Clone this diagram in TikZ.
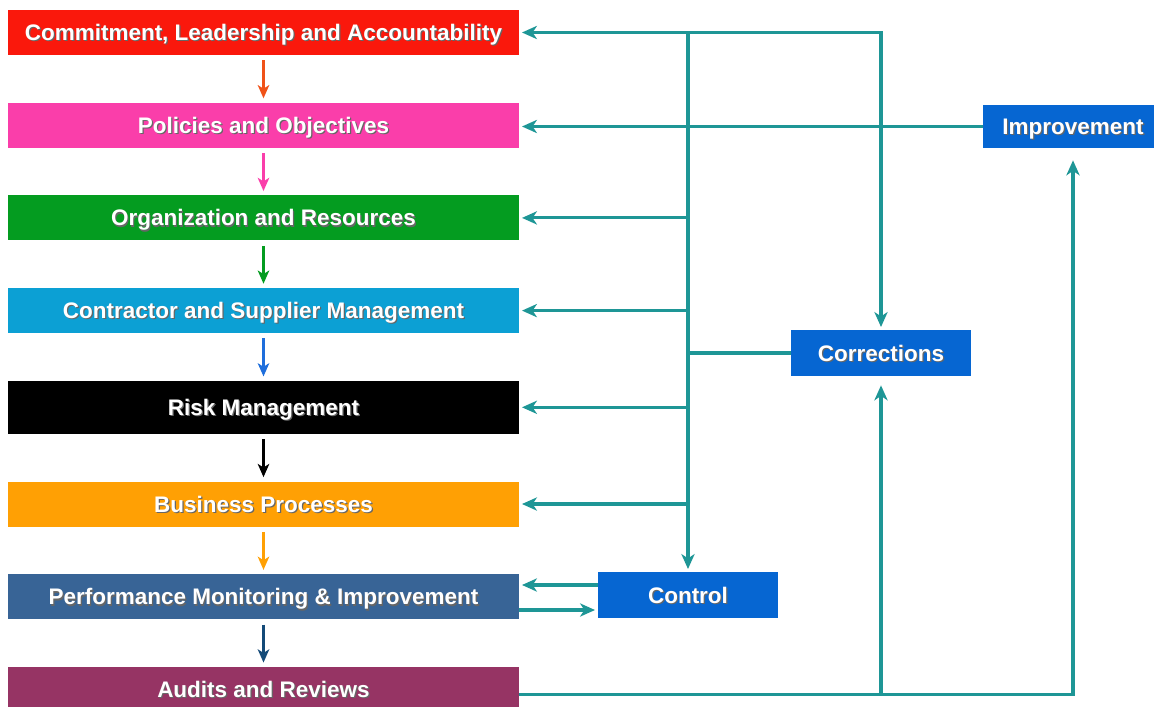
\documentclass[tikz,border=0pt]{standalone}
\usepackage{fontspec}
\setmainfont{Liberation Sans}
\usetikzlibrary{arrows.meta,positioning}

\definecolor{commitred}{RGB}{250,24,12}
\definecolor{arrowred}{RGB}{240,82,24}
\definecolor{policypink}{RGB}{250,62,170}
\definecolor{orggreen}{RGB}{4,156,32}
\definecolor{contractcyan}{RGB}{12,160,212}
\definecolor{arrowblue}{RGB}{30,110,220}
\definecolor{busorange}{RGB}{255,160,4}
\definecolor{perfsteel}{RGB}{56,100,150}
\definecolor{arrownavy}{RGB}{20,74,120}
\definecolor{auditplum}{RGB}{150,52,100}
\definecolor{actblue}{RGB}{6,102,210}
\definecolor{flowteal}{RGB}{30,150,150}

\newcommand{\shadowed}[1]{\leavevmode\rlap{\kern0.7pt\raisebox{-0.7pt}{\color{black!60}#1}}#1}

\begin{document}
\begin{tikzpicture}[node distance=0.94cm, auto,
    tealtip/.tip={Stealth[length=8.5pt,width=7.5pt,inset=2.5pt]},
    stage/.style={fill=#1, text=white, minimum width=10.22cm, minimum height=0.9cm,
        inner sep=0pt, text height=9.2pt, text depth=0pt,
        font=\bfseries\fontsize{12.8}{14}\selectfont},
    action/.style={fill=actblue, text=white, minimum width=3.6cm, minimum height=0.92cm,
        inner sep=0pt, text height=9.2pt, text depth=0pt,
        font=\bfseries\fontsize{12.8}{14}\selectfont},
    flow/.style={draw=flowteal, line width=1.8pt, -tealtip, shorten >=1.5pt},
    flowline/.style={draw=flowteal, line width=1.8pt},
    seq/.style={draw=#1, line width=1.5pt, -{Stealth[length=7.5pt,width=6.5pt,inset=2pt]},
        shorten <=0.1cm, shorten >=0.08cm}]
    \clip (0,0) rectangle (23.08,-14.14);

    % left column
    \node[stage=commitred] (commit) at (5.27,-0.65) {\shadowed{Commitment, Leadership and Accountability}};
    \node[stage=policypink, below=of commit] (policy) {\shadowed{Policies and Objectives}};
    \node[stage=orggreen, below=of policy] (org) {\shadowed{Organization and Resources}};
    \node[stage=contractcyan, below=of org] (contract) {\shadowed{Contractor and Supplier Management}};
    \node[stage=black, below=of contract, minimum height=1.06cm] (risk) {\shadowed{Risk Management}};
    \node[stage=busorange, below=of risk] (business) {\shadowed{Business Processes}};
    \node[stage=perfsteel, below=of business] (perf) {\shadowed{Performance Monitoring \& Improvement}};
    \node[stage=auditplum, below=of perf] (audit) {\shadowed{Audits and Reviews}};

    % right column
    \node[action, minimum height=0.86cm] (improve) at (21.46,-2.53) {\shadowed{Improvement}};
    \node[action] (correct) at (17.62,-7.06) {\shadowed{Corrections}};
    \node[action] (control) at (13.76,-11.9) {\shadowed{Control}};

    \foreach \a/\b/\c in {commit/policy/arrowred, policy/org/policypink, org/contract/orggreen,
        contract/risk/arrowblue, risk/business/black, business/perf/busorange, perf/audit/arrownavy}
        \draw[seq=\c] (\a) -- (\b);

    % feedback
    \coordinate (topcorner) at (correct.north |- commit.east);
    \coordinate (topsplit) at (control.north |- commit.east);
    \draw[flow, tealtip-tealtip, shorten <=1.5pt] (commit.east) -- (topcorner) -- (correct.north);
    \draw[flow] (topsplit) -- (control.north);
    \foreach \n in {org,contract,risk,business}
        \draw[flow] (control.north |- \n.east) -- (\n.east);
    \draw[flowline] (correct.west) -- (correct.west -| control.north);
    \draw[flow] (improve.west) -- (improve.west -| policy.east);

    \draw[flow] ([yshift=0.2cm]control.west) -- ([yshift=0.2cm]control.west -| perf.east);
    \draw[flow] ([yshift=-0.3cm]control.west -| perf.east) -- ([yshift=-0.3cm]control.west);

    \coordinate (botstart) at ([yshift=-0.1cm]audit.east);
    \coordinate (botcorner) at (improve.south |- botstart);
    \draw[flow, shorten >=0.24cm] (botstart) -- (botcorner) -- (improve.south);
    \draw[flow, shorten >=0.18cm] (correct.south |- botstart) -- (correct.south);
\end{tikzpicture}
\end{document}
